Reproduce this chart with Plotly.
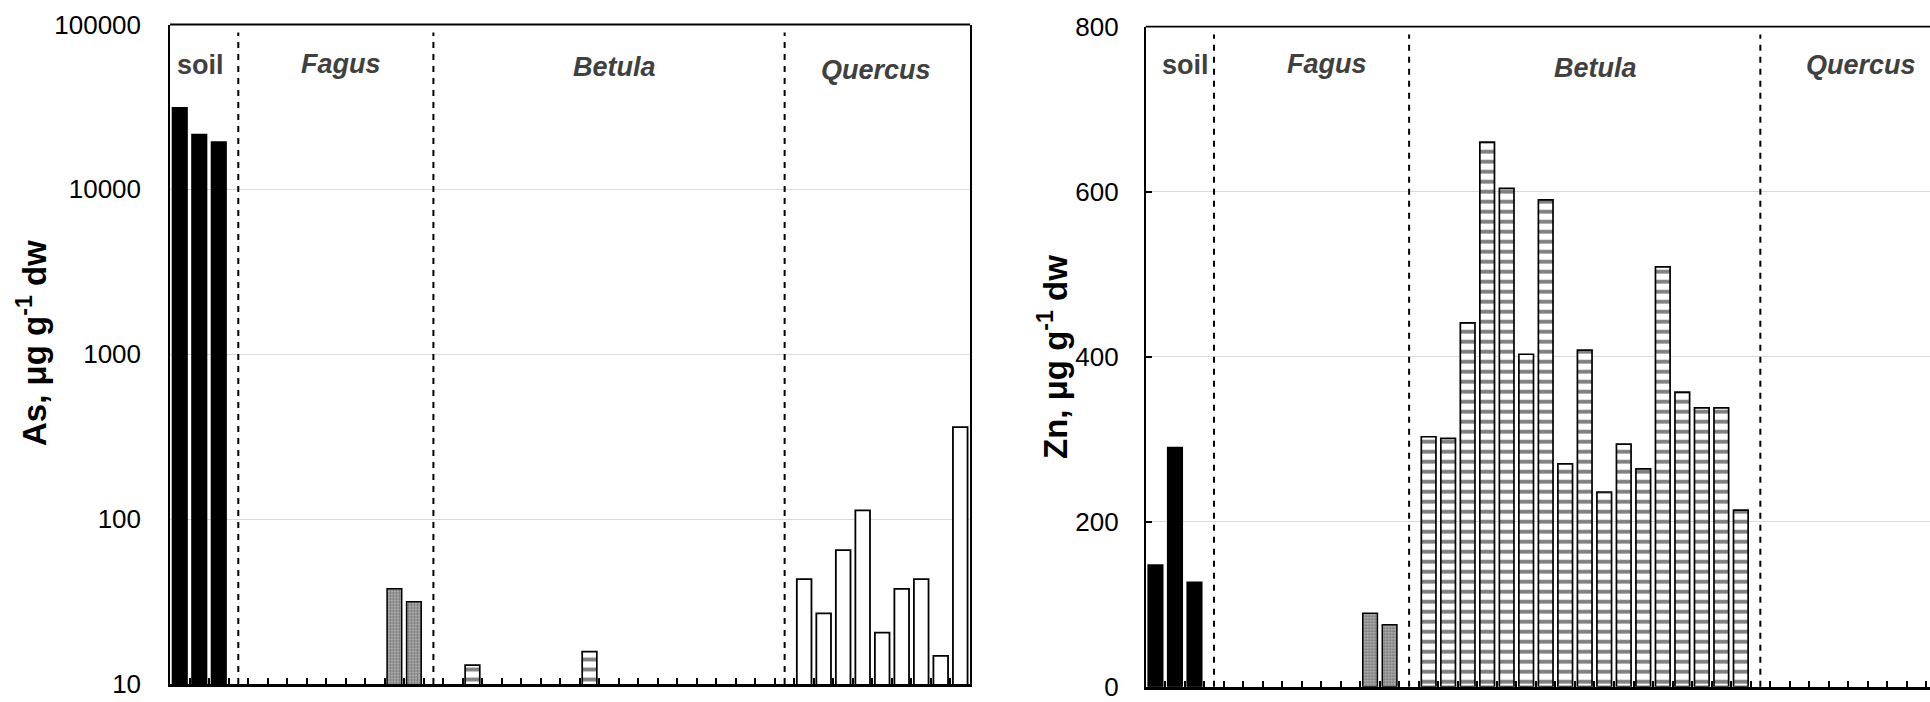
import plotly.graph_objects as go

# ---------------- data ----------------
groups = ["soil", "Fagus", "Betula", "Quercus"]
group_sizes = [3, 9, 17, 9]          # categories per group; one empty slot separates groups

soil_as = [31300, 21500, 19400]
fagus_as = [None, None, None, None, None, None, None, 37.8, 31.5]
betula_as = [None, 13.0, None, None, None, None, None, 15.7, None,
             None, None, None, None, None, None, None, None]
quercus_as = [43.3, 26.8, 64.9, 113, 20.5, 37.8, 43.3, 14.8, 361]

soil_zn = [147.5, 290, 126.5]
fagus_zn = [None, None, None, None, None, None, None, 89, 75]
betula_zn = [303, 301, 441, 660, 604, 403, 590, 270, 408,
             236, 294, 264, 509, 357, 338, 338, 214]
quercus_zn = [None, None, None, None, None, None, None, None, None]

as_ticks = [10, 100, 1000, 10000, 100000]
as_ticktext = ["10", "100", "1000", "10000", "100000"]
zn_ticks = [0, 200, 400, 600, 800]
zn_ticktext = ["0", "200", "400", "600", "800"]

# ---------------- category positions ----------------
starts = []
seps = []
pos = 1
for i, n in enumerate(group_sizes):
    starts.append(pos)
    pos += n
    if i < len(group_sizes) - 1:
        seps.append(pos)
        pos += 1
n_cat = pos - 1  # 41


def xs(gi, n):
    return [starts[gi] + k for k in range(n)]


FONT = "Arial, Liberation Sans, sans-serif"
W, H = 1930, 702

styles = {
    "soil": dict(marker=dict(color="black", line=dict(color="black", width=1.5))),
    "Fagus": dict(marker=dict(color="#a8a8a8", line=dict(color="black", width=1.5),
                              pattern=dict(shape=".", fgcolor="#262626", bgcolor="#c0c0c0",
                                           size=3, solidity=0.55))),
    "Betula": dict(marker=dict(color="white", line=dict(color="black", width=1.7),
                               pattern=dict(shape="-", fgcolor="black", bgcolor="white",
                                            size=10, solidity=0.38))),
    "Quercus": dict(marker=dict(color="white", line=dict(color="black", width=1.8))),
}

fig = go.Figure()

as_series = [soil_as, fagus_as, betula_as, quercus_as]
zn_series = [soil_zn, fagus_zn, betula_zn, quercus_zn]

for gi, (g, vals) in enumerate(zip(groups, as_series)):
    fig.add_trace(go.Bar(x=xs(gi, len(vals)), y=vals, width=0.75, xaxis="x", yaxis="y",
                         showlegend=False, **styles[g]))
for gi, (g, vals) in enumerate(zip(groups, zn_series)):
    fig.add_trace(go.Bar(x=xs(gi, len(vals)), y=vals, width=0.75, xaxis="x2", yaxis="y2",
                         showlegend=False, **styles[g]))

# plot frames (pixel geometry of the reference)
L_x0, L_x1, L_top, L_bot = 170, 970, 24.5, 684
R_x0, R_top, R_bot = 1145.7, 26.7, 686.7
cat_px = (L_x1 - L_x0) / n_cat

boundaries = [k + 0.5 for k in range(0, n_cat + 1)]

common_x = dict(showgrid=False, zeroline=False, showticklabels=False, automargin=False,
                tickvals=boundaries, ticks="inside", ticklen=6, tickwidth=1.5,
                tickcolor="black", showline=True, linecolor="black", linewidth=2.5)

fig.update_layout(
    width=W, height=H,
    autosize=False,
    margin=dict(l=0, r=0, t=0, b=0, pad=0, autoexpand=False),
    paper_bgcolor="white", plot_bgcolor="white",
    bargap=0.2,
    font=dict(family=FONT, size=26, color="black"),
    xaxis=dict(domain=[L_x0 / W, L_x1 / W], range=[0.5, n_cat + 0.5], anchor="y", **common_x),
    yaxis=dict(domain=[(H - L_bot) / H, (H - L_top) / H], type="log", range=[1, 5],
               anchor="x", tickvals=as_ticks, ticktext=as_ticktext, automargin=False,
               showgrid=True, gridcolor="#d9d9d9", gridwidth=1.3,
               showline=True, linecolor="black", linewidth=1.5, mirror=True,
               ticks="", ticklabelstandoff=22, zeroline=False,
               tickfont=dict(size=26, family=FONT)),
    xaxis2=dict(domain=[R_x0 / W, 1.0],
                range=[0.5, 0.5 + (W - R_x0) / cat_px], anchor="y2", **common_x),
    yaxis2=dict(domain=[(H - R_bot) / H, (H - R_top) / H], range=[0, 800],
                anchor="x2", tickvals=zn_ticks, ticktext=zn_ticktext, automargin=False,
                showgrid=True, gridcolor="#d9d9d9", gridwidth=1.3,
                showline=True, linecolor="black", linewidth=1.5, mirror=False,
                ticks="inside", ticklen=7, tickwidth=1.5, tickcolor="black",
                ticklabelstandoff=20, zeroline=False,
                tickfont=dict(size=26, family=FONT)),
)

shapes = []
# top border lines
for xr, yr in [("x", "y"), ("x2", "y2")]:
    shapes.append(dict(type="line", xref=f"{xr} domain", yref=f"{yr} domain",
                       x0=0, x1=1, y0=1, y1=1, line=dict(color="black", width=1.8)))
# dashed group separators
for xr, yr in [("x", "y"), ("x2", "y2")]:
    for s in seps:
        shapes.append(dict(type="line", xref=xr, yref=f"{yr} domain", x0=s, x1=s,
                           y0=0, y1=0.988,
                           line=dict(color="black", width=2.0, dash="6px,6px")))
fig.update_layout(shapes=shapes)

# group labels (data x, pixel y)
label_pos_left = [(2.04, 65), (9.26, 64), (23.3, 67), (36.66, 70)]
label_pos_right = [(2.53, 65), (9.8, 64), (23.53, 68), (37.14, 65)]
annotations = []
for xr, lp in [("x", label_pos_left), ("x2", label_pos_right)]:
    for g, (xv, ypx) in zip(groups, lp):
        txt = f"<b>{g}</b>" if g == "soil" else f"<b><i>{g}</i></b>"
        annotations.append(dict(xref=xr, yref="paper", x=xv, y=1 - ypx / H,
                                xanchor="center", yanchor="middle", showarrow=False,
                                text=txt, font=dict(size=27, color="#404040", family=FONT)))

annotations.append(dict(xref="paper", yref="paper", x=32 / W, y=1 - 343 / H,
                        xanchor="center", yanchor="middle", showarrow=False, textangle=-90,
                        text="<b>As, μg g<sup>-1</sup> dw</b>",
                        font=dict(size=33, color="black", family=FONT)))
annotations.append(dict(xref="paper", yref="paper", x=1053 / W, y=1 - 357 / H,
                        xanchor="center", yanchor="middle", showarrow=False, textangle=-90,
                        text="<b>Zn, μg g<sup>-1</sup> dw</b>",
                        font=dict(size=33, color="black", family=FONT)))
fig.update_layout(annotations=annotations)

fig.write_html("out.html",
               config={"displayModeBar": False},
               post_script="document.body.style.margin='0';document.body.style.overflow='hidden';")
